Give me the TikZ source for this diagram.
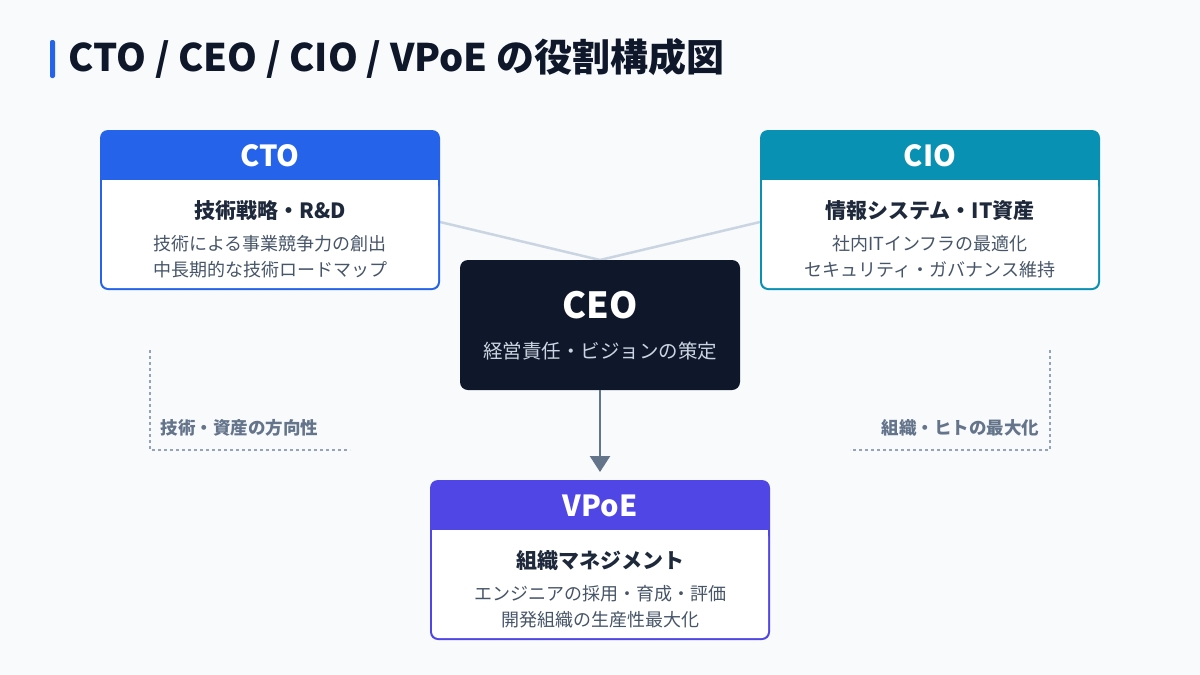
\documentclass[tikz,border=0pt]{standalone}
\usepackage{fontspec}
\setmainfont{Noto Sans CJK JP}
\usetikzlibrary{arrows.meta}
\definecolor{bg}{HTML}{F8FAFC}
\definecolor{ctoc}{HTML}{2563EB}
\definecolor{cioc}{HTML}{0891B2}
\definecolor{vpc}{HTML}{4F46E5}
\definecolor{dark}{HTML}{0F172A}
\definecolor{txt}{HTML}{1E293B}
\definecolor{sub}{HTML}{475569}
\definecolor{lbl}{HTML}{64748B}
\definecolor{ln}{HTML}{CBD5E1}
\definecolor{dsh}{HTML}{94A3B8}
\tikzset{
  role/.style={font=\fontsize{21}{25}\selectfont\bfseries, text=txt},
  desc/.style={font=\fontsize{18}{21}\selectfont, text=sub},
  hdr/.style={font=\fontsize{29}{34}\selectfont\bfseries, text=white},
  side/.style={font=\fontsize{17.5}{21}\selectfont\bfseries, text=lbl},
  dl/.style={draw=dsh, line width=1.2pt, dash pattern=on 3pt off 3pt},
}
\newcommand{\rolebox}[5]{% x1,y1,x2,y2,color
  \fill[#5, rounded corners=8pt] (#1,-#2) rectangle (#3,-#4);
  \fill[white, rounded corners=6.5pt] (#1+2,-#2-50) rectangle (#3-2,-#4+2);
  \fill[white] (#1+2,-#2-50) rectangle (#3-2,-#2-60);
}
\begin{document}
\begin{tikzpicture}[x=1pt,y=1pt]
\useasboundingbox (0,0) rectangle (1200,-675);
\fill[bg] (0,0) rectangle (1200,-675);
% title
\fill[ctoc, rounded corners=2pt] (50,-40) rectangle (55,-78);
\node[anchor=west, text=dark, font=\fontsize{38}{44}\selectfont\bfseries] (title) at (65,-58) {CTO / CEO / CIO / VPoE の役割構成図};
% connectors
\coordinate (ctoR) at (440,-222);
\coordinate (cioL) at (760,-222);
\coordinate (ceoT) at (600,-260);
\draw[ln, line width=2.5pt] (ctoR) -- (ceoT) -- (cioL);
% CTO
\rolebox{100}{130}{440}{290}{ctoc}
\node[hdr] (cto) at (270,-156) {CTO};
\node[role] (ctor) at (270,-211) {技術戦略・R\&D};
\node[desc] (ctod1) at (270,-244) {技術による事業競争力の創出};
\node[desc] (ctod2) at (270,-270) {中長期的な技術ロードマップ};
% CIO
\rolebox{760}{130}{1100}{290}{cioc}
\node[hdr] (cio) at (930,-156) {CIO};
\node[role] (cior) at (930,-211) {情報システム・IT資産};
\node[desc] (ciod1) at (930,-244) {社内ITインフラの最適化};
\node[desc] (ciod2) at (930,-270) {セキュリティ・ガバナンス維持};
% CEO
\fill[dark, rounded corners=8pt] (460,-260) rectangle (740,-390);
\node[text=white, font=\fontsize{36}{42}\selectfont\bfseries] (ceo) at (600,-305) {CEO};
\node[text=ln, font=\fontsize{19.5}{23}\selectfont] (ceod) at (600,-351) {経営責任・ビジョンの策定};
% arrow
\coordinate (ceoB) at (600,-390);
\coordinate (vpT) at (600,-472);
\draw[lbl, line width=2.5pt, -{Triangle[length=16pt,width=20pt]}] (ceoB) -- (vpT);
% VPoE
\rolebox{430}{480}{770}{640}{vpc}
\node[hdr] (vp) at (600,-506) {VPoE};
\node[role] (vpr) at (600,-561) {組織マネジメント};
\node[desc] (vpd1) at (600,-594) {エンジニアの採用・育成・評価};
\node[desc] (vpd2) at (600,-620) {開発組織の生産性最大化};
% side labels
\coordinate (l1) at (150,-350); \coordinate (l2) at (150,-450); \coordinate (l3) at (350,-450);
\draw[dl] (l1) -- (l2) -- (l3);
\node[side, anchor=west] (ls) at (157,-428) {技術・資産の方向性};
\coordinate (r1) at (1050,-350); \coordinate (r2) at (1050,-450); \coordinate (r3) at (850,-450);
\draw[dl] (r1) -- (r2) -- (r3);
\node[side, anchor=east] (rs) at (1043,-428) {組織・ヒトの最大化};
\end{tikzpicture}
\end{document}
